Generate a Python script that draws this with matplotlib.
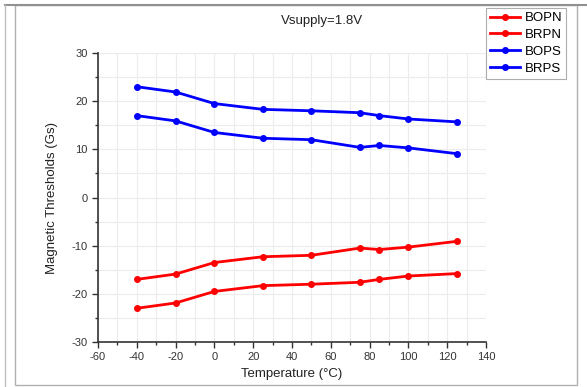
import matplotlib
matplotlib.use("Agg")
import matplotlib.pyplot as plt
from matplotlib.patches import Rectangle
from matplotlib.ticker import MultipleLocator

plt.rcParams['font.family'] = ['Liberation Sans', 'DejaVu Sans']
plt.rcParams['axes.unicode_minus'] = False

temps = [-40, -20, 0, 25, 50, 75, 85, 100, 125]
bopn = [-17.0, -15.9, -13.5, -12.3, -12.0, -10.5, -10.8, -10.3, -9.1]
brpn = [-23.0, -21.9, -19.5, -18.3, -18.0, -17.6, -17.0, -16.3, -15.8]
bops = [23.0, 21.9, 19.5, 18.3, 18.0, 17.6, 17.0, 16.3, 15.7]
brps = [17.0, 15.9, 13.5, 12.3, 12.0, 10.4, 10.8, 10.3, 9.1]
series = [("BOPN", bopn, "#ff0000"), ("BRPN", brpn, "#ff0000"),
          ("BOPS", bops, "#0000ff"), ("BRPS", brps, "#0000ff")]

fig = plt.figure(figsize=(5.87, 3.87), dpi=100)
W, H = 587, 387
# frame
fig.patches.append(Rectangle((15 / W, 2 / H), (577 - 15) / W, (382 - 2) / H,
                             transform=fig.transFigure, fill=False,
                             edgecolor="#b0b0b0", lw=1.0))
fig.lines.append(plt.Line2D([5 / W, 1.0], [1 - 5 / H, 1 - 5 / H],
                            transform=fig.transFigure, color="#909090", lw=1.5))
fig.lines.append(plt.Line2D([5 / W, 5 / W], [0, 1 - 5 / H],
                            transform=fig.transFigure, color="#c0c0c0", lw=1.0))

ax = fig.add_axes([98 / W, 1 - 342 / H, (486 - 98) / W, (342 - 53) / H])
for name, vals, col in series:
    ax.plot(temps, vals, color=col, lw=2, marker="o", ms=4, label=name)

ax.set_xlim(-60, 140)
ax.set_ylim(-30, 30)
ax.xaxis.set_major_locator(MultipleLocator(20))
ax.xaxis.set_minor_locator(MultipleLocator(10))
ax.yaxis.set_major_locator(MultipleLocator(10))
ax.yaxis.set_minor_locator(MultipleLocator(5))
ax.tick_params(which="major", length=4, width=1, labelsize=8, color="#333333", labelcolor="#333333")
ax.tick_params(which="minor", length=2.5, width=1, color="#333333")
ax.spines["top"].set_visible(False)
ax.spines["right"].set_visible(False)
for s in ("left", "bottom"):
    ax.spines[s].set_color("#333333")
    ax.spines[s].set_linewidth(1.2)
ax.grid(True, which="both", color="#ececec", lw=0.8)
ax.set_axisbelow(True)

ax.set_xlabel("Temperature (°C)", fontsize=9.5, color="#222222", labelpad=4)
ax.set_ylabel("Magnetic Thresholds (Gs)", fontsize=9.5, color="#222222", labelpad=10)
fig.text(322 / W, 1 - 21 / H, "Vsupply=1.8V", ha="center", va="center", fontsize=9.5, color="#222222")

leg = fig.legend(loc="upper right", bbox_to_anchor=(566 / W, 1 - 8 / H), fontsize=9.5,
                 frameon=True, fancybox=False, edgecolor="#999999", handlelength=2.3,
                 borderpad=0.3, labelspacing=0.35, handletextpad=0.3, borderaxespad=0)
leg.get_frame().set_linewidth(0.8)

fig.savefig("out.png", dpi=100)
